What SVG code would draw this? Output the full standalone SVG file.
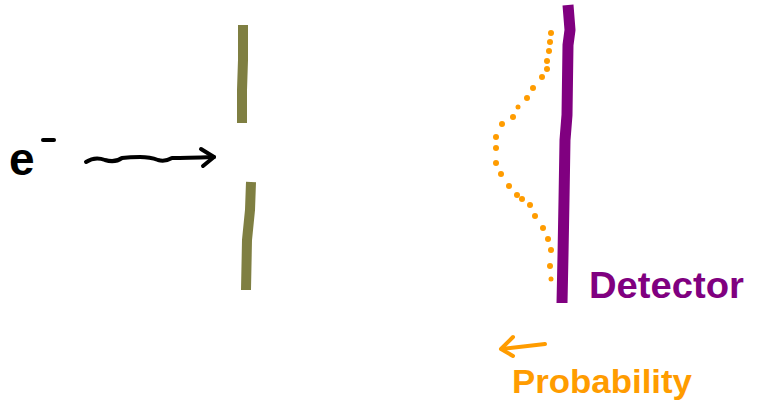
<svg xmlns="http://www.w3.org/2000/svg" width="761" height="407" viewBox="0 0 761 407">
<style>
.ink{fill:none;stroke-linecap:round;stroke-linejoin:round}
.bar{fill:none;stroke-linecap:butt;stroke-linejoin:round}
.blk{stroke:#000;stroke-width:4}
.org{stroke:#ff9c00}
.dot{fill:#ff9c00}
</style>
<rect width="761" height="407" fill="#fff"/>
<g id="electron">
<text x="9" y="175" font-family="Liberation Sans, sans-serif" font-weight="bold" font-size="46" fill="#000">e</text>
<path class="ink blk" d="M43 140 L54 140"/>
</g>
<g id="slit-top">
<path class="bar" stroke="#7f7f42" stroke-width="10" d="M243 25 L243 60 L242 90 L242 123"/>
</g>
<g id="slit-bottom">
<path class="bar" stroke="#7f7f42" stroke-width="10" d="M251 182 L250 210 L247 240 L246 290"/>
</g>
<g id="detector">
<path class="bar" stroke="#800080" stroke-width="11" d="M568 5 L570 30 L568 45 L567 115 L565 140 L564 200 L563 255 L562 303"/>
<text x="589" y="298" font-family="Liberation Sans, sans-serif" font-weight="bold" font-size="36" fill="#800080" textLength="155" lengthAdjust="spacingAndGlyphs">Detector</text>
</g>
<g id="probability">
<g class="dot">
<circle cx="551" cy="33" r="3"/><circle cx="550" cy="42" r="3"/><circle cx="549" cy="51" r="3"/><circle cx="547" cy="61" r="3"/><circle cx="547" cy="69" r="3"/><circle cx="542" cy="77" r="3"/><circle cx="533" cy="88" r="3"/><circle cx="527" cy="98" r="3"/><circle cx="518" cy="107" r="2.5"/><circle cx="513" cy="117" r="3"/><circle cx="502" cy="124" r="3"/><circle cx="496" cy="137" r="3"/><circle cx="496" cy="148" r="3"/><circle cx="496" cy="163" r="3"/><circle cx="501" cy="174" r="3"/><circle cx="509" cy="186" r="3"/><circle cx="517" cy="195" r="3"/><circle cx="522" cy="199" r="3"/><circle cx="530" cy="205" r="3"/><circle cx="535" cy="216" r="3"/><circle cx="543" cy="228" r="3"/><circle cx="548" cy="239" r="3"/><circle cx="551" cy="250" r="3"/><circle cx="550" cy="266" r="3"/><circle cx="551" cy="279" r="2.5"/>
</g>
<text x="512" y="393" font-family="Liberation Sans, sans-serif" font-weight="bold" font-size="34" fill="#ff9c00" textLength="180" lengthAdjust="spacingAndGlyphs">Probability</text>
</g>
<g id="connectors">
<path class="ink blk" d="M86 162 Q95 156 105 160 Q115 163 122 158 Q130 157 140 157 Q150 157 158 160 Q165 162 172 158 Q185 158 214 157"/>
<path class="ink blk" d="M201 149 L214 157 L203 166"/>
<path class="ink org" stroke-width="4" d="M545 344 L502 349"/>
<path class="ink org" stroke-width="4" d="M513 337 L501 349 L513 356"/>
</g>
</svg>
